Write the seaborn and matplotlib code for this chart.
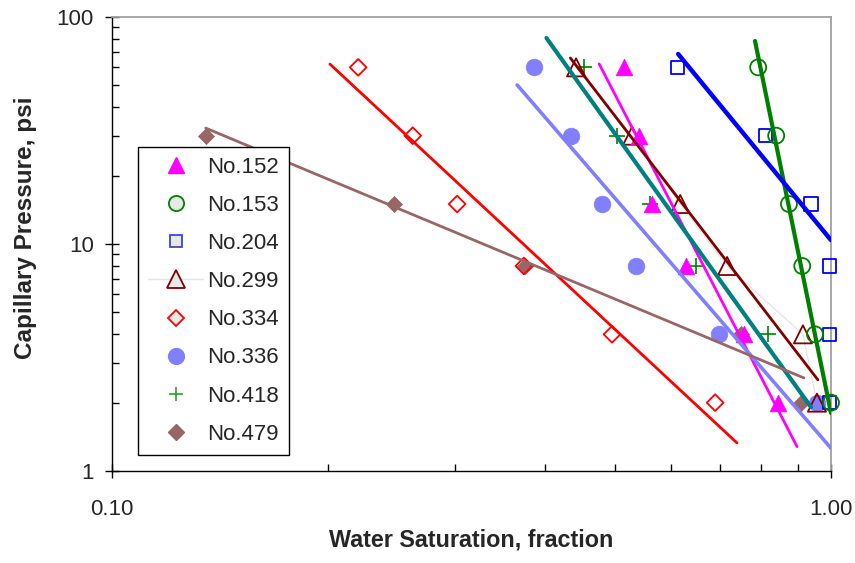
import numpy as np
import pandas as pd
import matplotlib
matplotlib.use("Agg")
import matplotlib.pyplot as plt
import seaborn as sns
from matplotlib.lines import Line2D
from matplotlib.ticker import FixedLocator, FixedFormatter, NullFormatter

# capillary pressure levels (psi)
pc_levels = [60, 30, 15, 8, 4, 2]
pc_479 = [30, 15, 8, 4, 2]

# water saturation (fraction)
sw_152 = [0.516, 0.541, 0.564, 0.629, 0.757, 0.844]
sw_153 = [0.792, 0.839, 0.874, 0.912, 0.950, 1.000]
sw_204 = [0.611, 0.810, 0.938, 0.995, 0.995, 0.995]
sw_299 = [0.442, 0.529, 0.617, 0.717, 0.914, 0.956]
sw_334 = [0.220, 0.262, 0.302, 0.374, 0.496, 0.690]
sw_336 = [0.386, 0.435, 0.481, 0.536, 0.699, 0.956]
sw_418 = [0.454, 0.504, 0.560, 0.649, 0.818, 0.955]
sw_479 = [0.135, 0.247, 0.375, 0.750, 0.909]

# trend lines, start and end (sw, pc)
trend_152 = ([0.476, 0.897], [62.1, 1.28])
trend_153 = ([0.784, 1.000], [78.4, 1.80])
trend_204 = ([0.613, 1.000], [68.7, 10.4])
trend_299 = ([0.434, 0.959], [66.0, 2.52])
trend_334 = ([0.201, 0.740], [62.0, 1.33])
trend_336 = ([0.366, 1.000], [50.2, 1.26])
trend_418 = ([0.402, 0.938], [80.8, 1.91])
trend_479 = ([0.135, 0.917], [32.4, 2.57])

SAMPLES = {
    'No.152': dict(sw=sw_152, pc=pc_levels, trend=trend_152, marker='^', ms=12, color='#ff00ff',
                   filled=True, line='#ff00ff', lw=2.0),
    'No.153': dict(sw=sw_153, pc=pc_levels, trend=trend_153, marker='o', ms=11.5, color='#008000',
                   filled=False, line='#008000', lw=3.0),
    'No.204': dict(sw=sw_204, pc=pc_levels, trend=trend_204, marker='s', ms=9.5, color='#0000ff',
                   filled=False, line='#0000ff', lw=3.2),
    'No.299': dict(sw=sw_299, pc=pc_levels, trend=trend_299, marker='^', ms=13, color='#800000',
                   filled=False, line='#800000', lw=2.0),
    'No.334': dict(sw=sw_334, pc=pc_levels, trend=trend_334, marker='D', ms=8.5, color='#ff0000',
                   filled=False, line='#ff0000', lw=2.0),
    'No.336': dict(sw=sw_336, pc=pc_levels, trend=trend_336, marker='o', ms=12, color='#8080ff',
                   filled=True, line='#8080ff', lw=2.6),
    'No.418': dict(sw=sw_418, pc=pc_levels, trend=trend_418, marker='+', ms=11, color='#008000',
                   filled=True, line='#008080', lw=3.0),
    'No.479': dict(sw=sw_479, pc=pc_479, trend=trend_479, marker='D', ms=8.2, color='#996666',
                   filled=True, line='#996666', lw=2.0),
}

sns.set_style("white")
plt.rcParams['font.family'] = ['Liberation Sans', 'DejaVu Sans']

fig = plt.figure(figsize=(8.55, 5.63), dpi=100)
ax = fig.add_axes([112 / 855, 92 / 563, 719 / 855, 454 / 563])
ax.set_xscale('log')
ax.set_yscale('log')

# faint connecting line for No.299
ax.plot(sw_299, pc_levels, color='#e4e4e4', lw=0.9, zorder=1)

# markers, drawn in reverse order like the original
for name in reversed(list(SAMPLES)):
    cfg = SAMPLES[name]
    df = pd.DataFrame({'sw': cfg['sw'], 'pc': cfg['pc']})
    if cfg['marker'] == '+':
        sns.scatterplot(data=df, x='sw', y='pc', ax=ax, marker='+', s=cfg['ms'] ** 2,
                        color=cfg['color'], edgecolor=None, linewidth=1.2, clip_on=False, zorder=3)
    elif cfg['filled']:
        sns.scatterplot(data=df, x='sw', y='pc', ax=ax, marker=cfg['marker'], s=cfg['ms'] ** 2,
                        color=cfg['color'], edgecolor=cfg['color'], linewidth=0.5,
                        clip_on=False, zorder=3)
    else:
        sns.scatterplot(data=df, x='sw', y='pc', ax=ax, marker=cfg['marker'], s=cfg['ms'] ** 2,
                        facecolor='none', edgecolor=cfg['color'], linewidth=1.3,
                        clip_on=False, zorder=3)

# power-law trend lines
for name, cfg in SAMPLES.items():
    tx, ty = cfg['trend']
    sns.lineplot(x=tx, y=ty, ax=ax, color=cfg['line'], linewidth=cfg['lw'],
                 sort=False, estimator=None, zorder=4)

ax.set_xlim(0.1, 1.0)
ax.set_ylim(1, 100)

ax.xaxis.set_major_locator(FixedLocator([0.1, 1.0]))
ax.xaxis.set_major_formatter(FixedFormatter(['0.10', '1.00']))
ax.xaxis.set_minor_locator(FixedLocator([0.2, 0.3, 0.4, 0.5, 0.6, 0.7, 0.8, 0.9]))
ax.xaxis.set_minor_formatter(NullFormatter())
ax.yaxis.set_major_locator(FixedLocator([1, 10, 100]))
ax.yaxis.set_major_formatter(FixedFormatter(['1', '10', '100']))
ax.yaxis.set_minor_locator(FixedLocator([2, 3, 4, 5, 6, 7, 8, 9, 20, 30, 40, 50, 60, 70, 80, 90]))
ax.yaxis.set_minor_formatter(NullFormatter())

ax.tick_params(which='major', direction='inout', length=10, width=1, color='black',
               labelsize=16, bottom=True, left=True, top=False, right=False)
ax.tick_params(which='minor', direction='in', length=5, width=1, color='black',
               bottom=True, left=True, top=False, right=False)
ax.tick_params(axis='x', which='major', pad=15)
ax.tick_params(axis='y', which='major', pad=8)

for side in ['left', 'bottom']:
    ax.spines[side].set_color('black')
    ax.spines[side].set_linewidth(1.0)
for side in ['top', 'right']:
    ax.spines[side].set_color('#a0a0a0')
    ax.spines[side].set_linewidth(1.3)

ax.set_xlabel('Water Saturation, fraction', fontsize=16.8, fontweight='bold')
ax.set_ylabel('Capillary Pressure, psi', fontsize=17.5, fontweight='bold')
ax.xaxis.set_label_coords(0.5, -0.126)
ax.yaxis.set_label_coords(-0.105, 0.535)

# legend with grey-filled open markers like the original
handles = []
for name, cfg in SAMPLES.items():
    if cfg['marker'] == '+':
        h = Line2D([], [], linestyle='none', marker='+', markersize=cfg['ms'] * 0.95,
                   color='#2ca02c', markeredgewidth=1.2)
    elif cfg['filled']:
        h = Line2D([], [], linestyle='none', marker=cfg['marker'], markersize=cfg['ms'] * 0.95,
                   markerfacecolor=cfg['color'], markeredgecolor=cfg['color'])
    else:
        edge = '#4444cc' if name == 'No.204' else cfg['color']
        h = Line2D([], [], linestyle='-' if name == 'No.299' else 'none',
                   color='#e4e4e4', lw=1, marker=cfg['marker'],
                   markersize=cfg['ms'] * 0.95, markerfacecolor='#e8e8e8',
                   markeredgecolor=edge, markeredgewidth=1.3)
    handles.append(h)

leg = ax.legend(handles, list(SAMPLES), loc='upper left', bbox_to_anchor=(0.036, 0.714),
                borderaxespad=0, fontsize=16, frameon=True, fancybox=False,
                framealpha=1, edgecolor='black', labelspacing=0.77, handlelength=2.5,
                handletextpad=0.18, borderpad=0.45, numpoints=1)
leg.get_frame().set_linewidth(1.0)
leg.set_zorder(5)

fig.savefig('out.png', dpi=100, facecolor='white')
